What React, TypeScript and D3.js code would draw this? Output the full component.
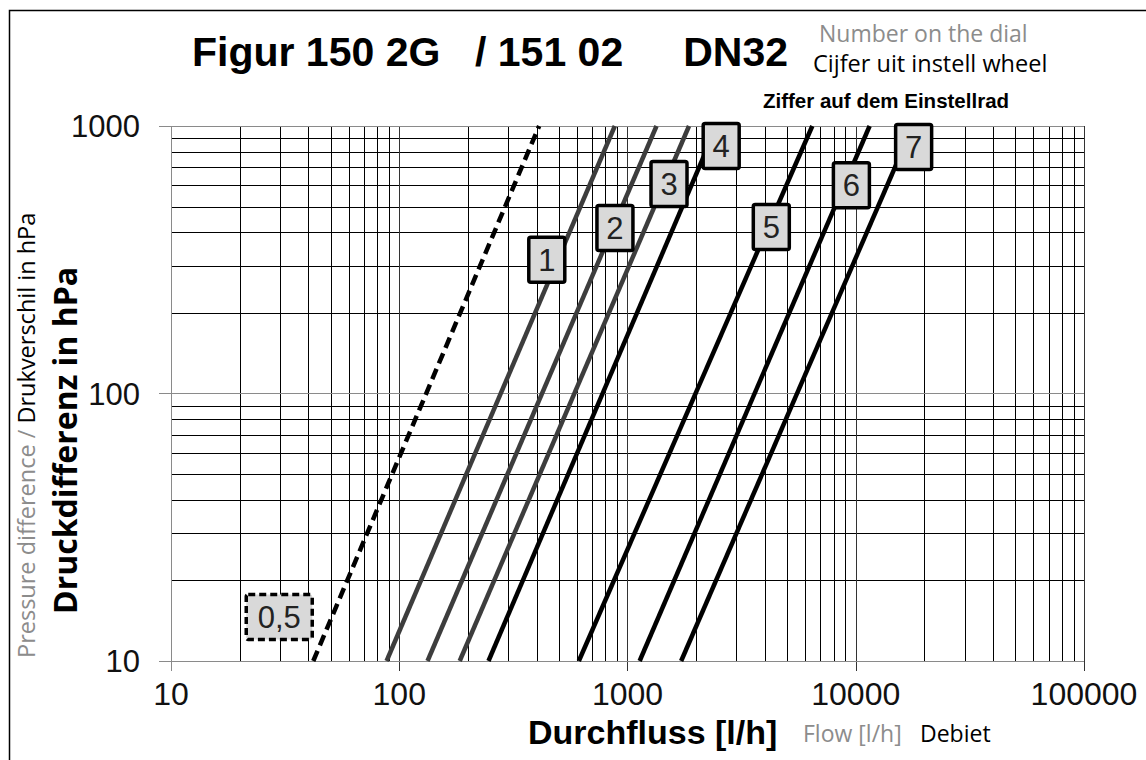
import { useEffect, useRef } from 'react';
import * as d3 from 'd3';

// dial settings and their characteristic lines (flow at 10 hPa and at 1000 hPa)
const settings = ['0,5', '1', '2', '3', '4', '5', '6', '7'];
const flowAt10 = [42, 88, 133, 184, 246, 612, 1130, 1718];
const flowAt1000 = [410, 880, 1340, 1860, 2460, 6450, 11500, 17800];

// where the number boxes sit (flow l/h, pressure hPa)
const labelFlow = [29.8, 443, 881, 1520, 2573, 4266, 9570, 17930];
const labelDp = [14.6, 316, 416, 607, 842, 419, 601, 835];

const xTicks = [10, 100, 1000, 10000, 100000];
const yTicks = [10, 100, 1000];

const ARIAL = '"Liberation Sans", Arial, sans-serif';
const SEGOE = '"Open Sans", "Noto Sans", sans-serif';

const App = () => {
  const svgRef = useRef(null);

  useEffect(() => {
    const width = 1146;
    const height = 760;
    const margin = { top: 126, right: 62, bottom: 99, left: 171 };

    const svg = d3.select(svgRef.current)
      .attr('width', width)
      .attr('height', height)
      .style('background-color', '#ffffff');

    svg.selectAll('*').remove();

    const x = d3.scaleLog().domain([10, 100000]).range([margin.left, width - margin.right]);
    const y = d3.scaleLog().domain([10, 1000]).range([height - margin.bottom, margin.top]);

    // frame
    svg.append('rect')
      .attr('x', 9.5).attr('y', 10.5)
      .attr('width', 1150).attr('height', 800)
      .attr('fill', 'none').attr('stroke', '#000').attr('stroke-width', 1.5);

    // minor grid
    const minorX = [];
    for (let k = 10; k < 100000; k *= 10) for (let m = 2; m <= 9; m++) minorX.push(m * k);
    const minorY = [];
    for (let k = 10; k < 1000; k *= 10) for (let m = 2; m <= 9; m++) minorY.push(m * k);

    const grid = svg.append('g').attr('shape-rendering', 'crispEdges');
    grid.selectAll('.vx').data(minorX).enter().append('line')
      .attr('x1', d => Math.round(x(d)) + 0.5).attr('x2', d => Math.round(x(d)) + 0.5)
      .attr('y1', y(1000)).attr('y2', y(10))
      .attr('stroke', '#000').attr('stroke-width', 1);
    grid.selectAll('.hy').data(minorY).enter().append('line')
      .attr('y1', d => Math.round(y(d)) + 0.5).attr('y2', d => Math.round(y(d)) + 0.5)
      .attr('x1', x(10)).attr('x2', x(100000))
      .attr('stroke', '#000').attr('stroke-width', 1);

    // major lines with outside ticks
    grid.selectAll('.mx').data(xTicks).enter().append('line')
      .attr('x1', d => Math.round(x(d)) + 0.5).attr('x2', d => Math.round(x(d)) + 0.5)
      .attr('y1', y(1000)).attr('y2', y(10) + 10)
      .attr('stroke', d => (d === 10 ? '#8a8a8a' : '#333')).attr('stroke-width', 1);
    grid.selectAll('.my').data(yTicks).enter().append('line')
      .attr('y1', d => Math.round(y(d)) + 0.5).attr('y2', d => Math.round(y(d)) + 0.5)
      .attr('x1', x(10) - 12).attr('x2', x(100000))
      .attr('stroke', '#8a8a8a').attr('stroke-width', 1.5);

    // tick labels
    svg.append('g').selectAll('text').data(xTicks).enter().append('text')
      .attr('x', d => x(d)).attr('y', 705)
      .attr('text-anchor', 'middle')
      .style('font-family', ARIAL).style('font-size', '32px').attr('fill', '#111')
      .text(d => String(d));
    svg.append('g').selectAll('text').data(yTicks).enter().append('text')
      .attr('x', 140).attr('y', d => y(d) + 11)
      .attr('text-anchor', 'end')
      .style('font-family', ARIAL).style('font-size', '31px').attr('fill', '#111')
      .text(d => String(d));

    // characteristic lines
    const line = d3.line().x(d => x(d[0])).y(d => y(d[1]));
    svg.append('g').selectAll('path').data(settings).enter().append('path')
      .attr('d', (s, i) => line([[flowAt10[i], 10], [flowAt1000[i], 1000]]))
      .attr('fill', 'none')
      .attr('stroke', (s, i) => (i >= 1 && i <= 3 ? '#3d3d3d' : '#000'))
      .attr('stroke-width', 4.5)
      .attr('stroke-dasharray', (s, i) => (i === 0 ? '11,6' : null));

    // number boxes
    const boxes = svg.append('g').selectAll('g').data(settings).enter().append('g')
      .attr('transform', (s, i) => `translate(${x(labelFlow[i])},${y(labelDp[i])})`);
    boxes.append('rect')
      .attr('x', (s, i) => (i === 0 ? -33 : -18)).attr('y', -22.5)
      .attr('width', (s, i) => (i === 0 ? 66 : 36)).attr('height', 45)
      .attr('rx', 2)
      .attr('fill', '#d9d9d9').attr('stroke', '#000').attr('stroke-width', 3.5)
      .attr('stroke-dasharray', (s, i) => (i === 0 ? '7,4' : null));
    boxes.append('text')
      .attr('y', 11)
      .attr('text-anchor', 'middle')
      .style('font-family', ARIAL).style('font-size', '31px').attr('fill', '#222')
      .text(s => s);

    // title
    const title = svg.append('g')
      .style('font-family', ARIAL).style('font-size', '41px').style('font-weight', 'bold').attr('fill', '#000');
    title.append('text').attr('x', 192).attr('y', 66).text('Figur 150 2G');
    title.append('text').attr('x', 475).attr('y', 66).text('/ 151 02');
    title.append('text').attr('x', 788).attr('y', 66).attr('text-anchor', 'end').text('DN32');

    svg.append('text')
      .attr('x', 819).attr('y', 42)
      .style('font-family', SEGOE).style('font-size', '23px').attr('fill', '#8c8c8c')
      .text('Number on the dial');
    svg.append('text')
      .attr('x', 813).attr('y', 72)
      .style('font-family', SEGOE).style('font-size', '23.5px').attr('fill', '#000')
      .text('Cijfer uit instell wheel');
    svg.append('text')
      .attr('x', 763).attr('y', 108)
      .style('font-family', ARIAL).style('font-size', '20.5px').style('font-weight', 'bold')
      .text('Ziffer auf dem Einstellrad');

    // x axis titles
    svg.append('text')
      .attr('x', 528).attr('y', 744)
      .style('font-family', ARIAL).style('font-size', '34px').style('font-weight', 'bold')
      .text('Durchfluss [l/h]');
    const xsub = svg.append('text')
      .attr('x', 803).attr('y', 742)
      .style('font-family', SEGOE).style('font-size', '23px');
    xsub.append('tspan').attr('fill', '#8c8c8c').text('Flow [l/h]');
    xsub.append('tspan').attr('x', 920).attr('fill', '#000').text('Debiet');

    // y axis titles
    const ysub = svg.append('text')
      .attr('transform', 'translate(35,658) rotate(-90)')
      .style('font-family', SEGOE).style('font-size', '23.5px');
    ysub.append('tspan').attr('fill', '#8c8c8c').text('Pressure difference / ');
    ysub.append('tspan').attr('fill', '#000').text('Drukverschil in hPa');
    svg.append('text')
      .attr('transform', 'translate(77,614) rotate(-90)')
      .style('font-family', SEGOE).style('font-size', '32px').style('font-weight', 'bold')
      .text('Druckdifferenz in hPa');
  }, []);

  return <svg ref={svgRef} style={{ position: 'absolute', left: 0, top: 0 }}></svg>;
};

export default App;
